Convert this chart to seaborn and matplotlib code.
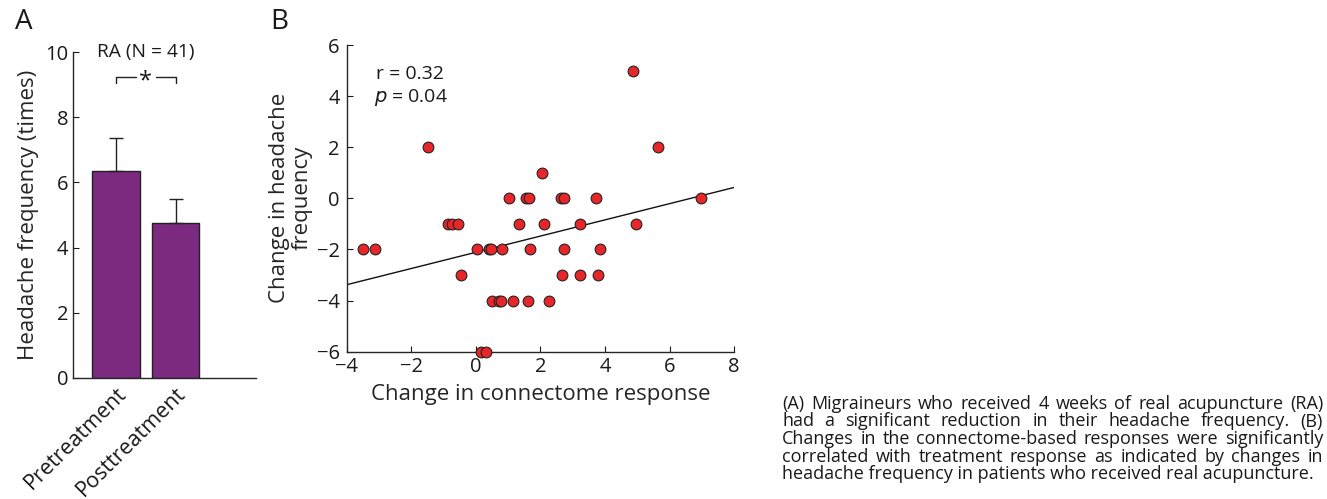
import numpy as np
import pandas as pd
import matplotlib
matplotlib.use('Agg')
import matplotlib.pyplot as plt
import seaborn as sns

# ── Data ───────────────────────────────────────────────
groups = ['Pretreatment', 'Posttreatment']
freq_mean = [6.35, 4.75]
freq_sem = [1.03, 0.75]

conn_change = [4.87, -1.49, 5.64, 2.04, 1.02, 1.56, 1.63, 2.64, 2.72, 3.71, 6.97,
               -0.85, -0.75, -0.57, 1.33, 2.12, 3.23, 4.95,
               -3.51, -3.13, 0.02, 0.40, 0.46, 0.81, 1.69, 2.73, 3.84,
               -0.46, 2.68, 3.23, 3.79,
               0.49, 0.73, 0.78, 1.14, 1.62, 2.27,
               0.15, 0.30]
head_change = [5, 2, 2, 1, 0, 0, 0, 0, 0, 0, 0,
               -1, -1, -1, -1, -1, -1, -1,
               -2, -2, -2, -2, -2, -2, -2, -2, -2,
               -3, -3, -3, -3,
               -4, -4, -4, -4, -4, -4,
               -6, -6]

caption = ["(A) Migraineurs who received 4 weeks of real acupuncture (RA)",
           "had a significant reduction in their headache frequency. (B)",
           "Changes in the connectome-based responses were significantly",
           "correlated with treatment response as indicated by changes in",
           "headache frequency in patients who received real acupuncture."]

sns.set_style('ticks')
plt.rcParams['font.family'] = ['Open Sans', 'DejaVu Sans']
plt.rcParams['xtick.direction'] = 'in'
plt.rcParams['ytick.direction'] = 'in'
plt.rcParams['axes.linewidth'] = 1.0
plt.rcParams['text.color'] = '#1a1a1a'
plt.rcParams['xtick.color'] = '#1a1a1a'
plt.rcParams['ytick.color'] = '#1a1a1a'

fig = plt.figure(figsize=(13.27, 4.99), dpi=100)

# ── Panel A: bar chart ─────────────────────────────────
axA = fig.add_axes([0.055, 0.2425, 0.138, 0.653])
dfA = pd.DataFrame({'group': groups, 'freq': freq_mean})
sns.barplot(data=dfA, x='group', y='freq', color='#7b2a80', width=0.8,
            edgecolor='#222222', linewidth=1.0, saturation=1, ax=axA)
axA.errorbar(range(len(groups)), freq_mean,
             yerr=[np.zeros(len(freq_sem)), freq_sem],
             fmt='none', ecolor='#222222', elinewidth=1.0, capsize=5)
axA.set_xlim(-0.72, 2.35)
axA.set_ylim(0, 10)
axA.set_yticks([0, 2, 4, 6, 8, 10])
axA.tick_params(axis='y', labelsize=14.5, length=4)
axA.tick_params(axis='x', length=0, labelsize=15.5, pad=4)
for lab in axA.get_xticklabels():
    lab.set_rotation(45)
    lab.set_ha('right')
    lab.set_va('top')
    lab.set_rotation_mode('anchor')
axA.set_xlabel('')
axA.set_ylabel('Headache frequency (times)', fontsize=16, labelpad=4)
sns.despine(ax=axA)
axA.text(0.5, 10.0, 'RA (N = 41)', ha='center', va='center', fontsize=13.8,
         clip_on=False)
# significance bracket
axA.plot([0.0, 0.0, 0.33], [9.05, 9.23, 9.23], color='#222222', lw=1.0, clip_on=False)
axA.plot([0.67, 1.0, 1.0], [9.23, 9.23, 9.05], color='#222222', lw=1.0, clip_on=False)
axA.text(0.5, 9.1, '*', ha='center', va='center', fontsize=17)

# ── Panel B: scatter with regression ───────────────────
axB = fig.add_axes([0.2613, 0.2952, 0.292, 0.6146])
axB.set_xlim(-4, 8)
axB.set_ylim(-6, 6)
dfB = pd.DataFrame({'conn': conn_change, 'head': head_change})
sns.regplot(data=dfB, x='conn', y='head', ci=None, truncate=False, ax=axB,
            scatter_kws={'s': 60, 'color': '#e8262a', 'edgecolor': '#222222',
                         'linewidths': 0.8, 'alpha': 1, 'clip_on': False, 'zorder': 3},
            line_kws={'color': '#111111', 'lw': 1.0})
axB.set_xlim(-4, 8)
axB.set_ylim(-6, 6)
axB.set_xticks([-4, -2, 0, 2, 4, 6, 8])
axB.set_yticks([-6, -4, -2, 0, 2, 4, 6])
axB.tick_params(labelsize=14.5, length=4)
axB.tick_params(axis='x', pad=4)
axB.tick_params(axis='y', pad=5)
axB.set_xlabel('Change in connectome response', fontsize=16, labelpad=5)
axB.set_ylabel('Change in headache\nfrequency', fontsize=16, labelpad=3,
               linespacing=1.1)
sns.despine(ax=axB)
axB.text(-3.1, 4.85, 'r = 0.32', fontsize=14, ha='left', va='center')
axB.text(-3.15, 3.95, '$p$ = 0.04', fontsize=14, ha='left', va='center')

# ── Panel letters ──────────────────────────────────────
fig.text(0.011, 0.928, 'A', fontsize=20, ha='left', va='bottom')
fig.text(0.204, 0.928, 'B', fontsize=20, ha='left', va='bottom')

# ── Caption (justified) ────────────────────────────────
renderer = fig.canvas.get_renderer()
cap_fs = 13.0
x0_px, x1_px = 782, 1323
y_top_px = 404
line_h = 17.5
W, H = fig.get_size_inches() * fig.dpi
for i, line in enumerate(caption):
    y = 1 - (y_top_px + i * line_h) / H
    words = line.split(' ')
    if i == len(caption) - 1:
        fig.text(x0_px / W, y, line, fontsize=cap_fs, ha='left', va='center')
        continue
    widths = []
    for w in words:
        t = fig.text(0, 0, w, fontsize=cap_fs)
        widths.append(t.get_window_extent(renderer).width)
        t.remove()
    gap = (x1_px - x0_px - sum(widths)) / (len(words) - 1)
    xp = x0_px
    for w, wd in zip(words, widths):
        fig.text(xp / W, y, w, fontsize=cap_fs, ha='left', va='center')
        xp += wd + gap

fig.savefig('out.png', dpi=100)
